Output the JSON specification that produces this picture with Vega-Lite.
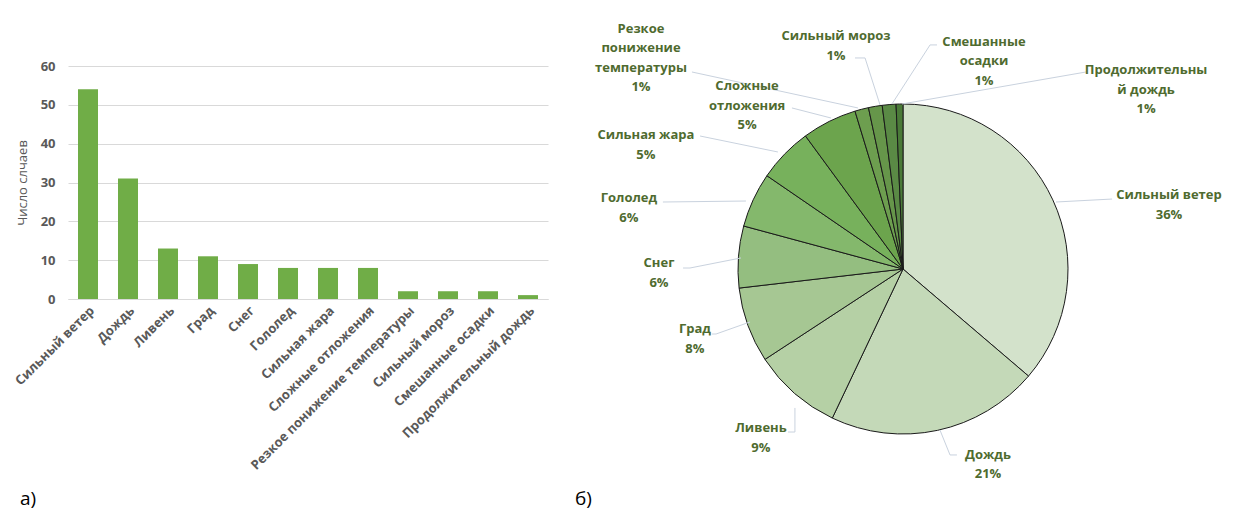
{
  "$schema": "https://vega.github.io/schema/vega-lite/v6.json",
  "padding": {"left": 12, "top": 22, "right": 0, "bottom": 0},
  "autosize": {"type": "pad"},
  "spacing": 15,
  "background": "white",
  "config": {"view": {"stroke": null}, "font": "Open Sans"},
  "datasets": {
    "bars": [
      {"cat": "Сильный ветер", "n": 54, "idx": 1},
      {"cat": "Дождь", "n": 31, "idx": 2},
      {"cat": "Ливень", "n": 13, "idx": 3},
      {"cat": "Град", "n": 11, "idx": 4},
      {"cat": "Снег", "n": 9, "idx": 5},
      {"cat": "Гололед", "n": 8, "idx": 6},
      {"cat": "Сильная жара", "n": 8, "idx": 7},
      {"cat": "Сложные отложения", "n": 8, "idx": 8},
      {"cat": "Резкое понижение температуры", "n": 2, "idx": 9},
      {"cat": "Сильный мороз", "n": 2, "idx": 10},
      {"cat": "Смешанные осадки", "n": 2, "idx": 11},
      {"cat": "Продолжительный дождь", "n": 1, "idx": 12}
    ],
    "labels": [
      {"label": "Сильный ветер\n36%", "x": 161.2, "y": 44.8},
      {"label": "Дождь\n21%", "x": 51.5, "y": -112.7},
      {"label": "Ливень\n9%", "x": -86.1, "y": -96.4},
      {"label": "Град\n8%", "x": -126.1, "y": -36.4},
      {"label": "Снег\n6%", "x": -147.9, "y": 3.6},
      {"label": "Гололед\n6%", "x": -166.1, "y": 43.0},
      {"label": "Сильная жара\n5%", "x": -155.8, "y": 81.2},
      {"label": "Сложные\nотложения\n5%", "x": -94.5, "y": 110.9},
      {"label": "Резкое\nпонижение\nтемпературы\n1%", "x": -158.8, "y": 145.5},
      {"label": "Сильный мороз\n1%", "x": -40.6, "y": 141.2},
      {"label": "Смешанные\nосадки\n1%", "x": 49.1, "y": 137.6},
      {"label": "Продолжительны\nй дождь\n1%", "x": 147.3, "y": 120.6}
    ],
    "leaders": [
      {"lbl": "Сильный ветер", "k": 0, "x": 92.7, "y": 40.6},
      {"lbl": "Сильный ветер", "k": 1, "x": 126.7, "y": 42.4},
      {"lbl": "Дождь", "k": 0, "x": 22.4, "y": -97.6},
      {"lbl": "Дождь", "k": 1, "x": 28.5, "y": -112.7},
      {"lbl": "Дождь", "k": 2, "x": 32.7, "y": -112.7},
      {"lbl": "Ливень", "k": 0, "x": -65.5, "y": -84.2},
      {"lbl": "Ливень", "k": 1, "x": -65.5, "y": -98.8},
      {"lbl": "Ливень", "k": 2, "x": -69.7, "y": -98.8},
      {"lbl": "Град", "k": 0, "x": -92.7, "y": -32.1},
      {"lbl": "Град", "k": 1, "x": -113.3, "y": -39.4},
      {"lbl": "Град", "k": 2, "x": -115.8, "y": -39.4},
      {"lbl": "Снег", "k": 0, "x": -98.2, "y": 6.7},
      {"lbl": "Снег", "k": 1, "x": -129.1, "y": 0.6},
      {"lbl": "Снег", "k": 2, "x": -133.3, "y": 0.6},
      {"lbl": "Гололед", "k": 0, "x": -95.2, "y": 41.2},
      {"lbl": "Гололед", "k": 1, "x": -145.5, "y": 40.6},
      {"lbl": "Сильная жара", "k": 0, "x": -75.8, "y": 70.9},
      {"lbl": "Сильная жара", "k": 1, "x": -123.0, "y": 80.6},
      {"lbl": "Сложные отложения", "k": 0, "x": -43.6, "y": 91.5},
      {"lbl": "Сложные отложения", "k": 1, "x": -67.3, "y": 97.6},
      {"lbl": "Резкое понижение температуры", "k": 0, "x": -27.3, "y": 97.6},
      {"lbl": "Резкое понижение температуры", "k": 1, "x": -127.9, "y": 119.4},
      {"lbl": "Сильный мороз", "k": 0, "x": -13.9, "y": 99.4},
      {"lbl": "Сильный мороз", "k": 1, "x": -23.0, "y": 127.9},
      {"lbl": "Сильный мороз", "k": 2, "x": -29.1, "y": 127.9},
      {"lbl": "Смешанные осадки", "k": 0, "x": -6.7, "y": 100.0},
      {"lbl": "Смешанные осадки", "k": 1, "x": 16.4, "y": 135.8},
      {"lbl": "Смешанные осадки", "k": 2, "x": 20.6, "y": 135.8},
      {"lbl": "Продолжительный дождь", "k": 0, "x": -0.6, "y": 100.0},
      {"lbl": "Продолжительный дождь", "k": 1, "x": 110.9, "y": 119.4}
    ]
  },
  "hconcat": [
    {
      "width": 480,
      "height": 233,
      "title": {"text": "а)", "orient": "bottom", "anchor": "start", "frame": "bounds", "fontSize": 19, "fontWeight": "normal", "color": "#000000", "offset": 18, "dx": 7},
      "data": {"name": "bars"},
      "mark": {"type": "bar", "color": "#70ad47", "width": {"band": 0.5}},
      "encoding": {
        "x": {
          "field": "cat", "type": "nominal", "sort": null,
          "scale": {"paddingInner": 0, "paddingOuter": 0},
          "axis": {"title": null, "labelAngle": -45, "labelFontWeight": "bold", "labelFontSize": 13, "labelColor": "#595959", "ticks": false, "domainColor": "#d9d9d9", "labelPadding": 5, "labelLimit": 400}
        },
        "y": {
          "field": "n", "type": "quantitative",
          "scale": {"domain": [0, 60]},
          "axis": {"title": "Число слчаев", "titleFontWeight": "normal", "titleFontSize": 13, "titleColor": "#595959", "titlePadding": 11, "labelFontWeight": "bold", "labelFontSize": 13, "labelColor": "#595959", "labelPadding": 13, "domain": false, "ticks": false, "gridColor": "#d9d9d9", "values": [0, 10, 20, 30, 40, 50, 60]}
        }
      }
    },
    {
      "width": 680,
      "height": 406,
      "title": {"text": "б)", "orient": "bottom", "anchor": "start", "frame": "group", "fontSize": 19, "fontWeight": "normal", "color": "#000000", "offset": 9, "dx": 12},
      "layer": [
        {
          "data": {"name": "bars"},
          "mark": {"type": "arc", "radius": 165, "stroke": "#1a1a1a", "strokeWidth": 1},
          "encoding": {
            "theta": {"field": "n", "type": "quantitative", "stack": true},
            "order": {"field": "idx", "type": "quantitative"},
            "color": {
              "field": "cat", "type": "nominal", "sort": null, "legend": null,
              "scale": {
                "domain": ["Сильный ветер", "Дождь", "Ливень", "Град", "Снег", "Гололед", "Сильная жара", "Сложные отложения", "Резкое понижение температуры", "Сильный мороз", "Смешанные осадки", "Продолжительный дождь"],
                "range": ["#d3e2cb", "#c4d9b8", "#b5d0a5", "#a6c793", "#94be80", "#84b86c", "#77b15c", "#6ca44d", "#6d9e4f", "#66964a", "#5a8a45", "#4a7a38"]
              }
            }
          }
        },
        {
          "data": {"name": "leaders"},
          "mark": {"type": "line", "color": "#c9d2de", "strokeWidth": 1},
          "encoding": {
            "x": {"field": "x", "type": "quantitative", "scale": {"domain": [-206.06, 206.06], "nice": false, "zero": false}, "axis": null},
            "y": {"field": "y", "type": "quantitative", "scale": {"domain": [-123.03, 123.03], "nice": false, "zero": false}, "axis": null},
            "detail": {"field": "lbl", "type": "nominal"},
            "order": {"field": "k", "type": "quantitative"}
          }
        },
        {
          "data": {"name": "labels"},
          "mark": {"type": "text", "lineBreak": "\n", "fontWeight": "bold", "fontSize": 13, "color": "#4f6b2f", "align": "center", "baseline": "middle", "lineHeight": 19.5},
          "encoding": {
            "x": {"field": "x", "type": "quantitative", "axis": null},
            "y": {"field": "y", "type": "quantitative", "axis": null},
            "text": {"field": "label", "type": "nominal"}
          }
        }
      ]
    }
  ]
}
